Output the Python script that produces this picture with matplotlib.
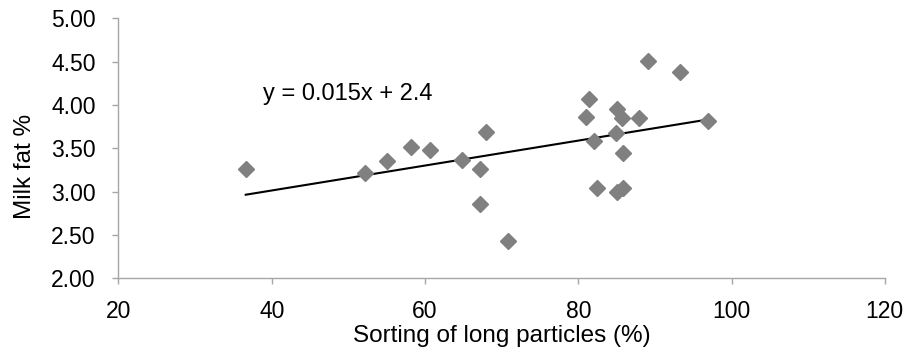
import numpy as np
import matplotlib
matplotlib.use("Agg")
import matplotlib.pyplot as plt

plt.rcParams["font.family"] = ["Liberation Sans", "DejaVu Sans"]

# sorting of long particles (%) and milk fat (%)
sorting = [36.6, 52.2, 55.1, 58.2, 60.6, 64.8, 67.15, 67.2, 68.0, 70.8,
           81.4, 81.0, 82.1, 82.45, 84.9, 85.0, 85.7, 85.0, 85.9, 85.9,
           87.9, 89.15, 93.3, 96.9]
milk_fat = [3.26, 3.21, 3.35, 3.515, 3.477, 3.365, 3.26, 2.86, 3.685, 2.434,
            4.072, 3.865, 3.58, 3.046, 3.677, 3.957, 3.85, 2.99, 3.446, 3.04,
            3.853, 4.51, 4.384, 3.82]

x = np.array(sorting)
y = np.array(milk_fat)
slope, intercept = np.polyfit(x, y, 1)
xl = np.array([x.min(), x.max()])

fig = plt.figure(figsize=(9.15, 3.56), dpi=100)
ax = fig.add_axes([0.1295, 0.2183, 0.8375, 0.7303])

ax.plot(x, y, linestyle="none", marker="D", markersize=8, color="#808080",
        markeredgecolor="#808080", zorder=3)
ax.plot(xl, slope * xl + intercept, color="black", linewidth=1.5, zorder=2)

ax.text(38.85, 4.132, "y = 0.015x + 2.4", fontsize=17, va="center", ha="left")

ax.set_xlim(20, 120)
ax.set_ylim(2.0, 5.0)
ax.set_xticks([20, 40, 60, 80, 100, 120])
ax.set_yticks([2.0, 2.5, 3.0, 3.5, 4.0, 4.5, 5.0])
ax.set_yticklabels([f"{v:.2f}" for v in ax.get_yticks()])

for s in ["top", "right"]:
    ax.spines[s].set_visible(False)
for s in ["left", "bottom"]:
    ax.spines[s].set_color("#a6a6a6")
    ax.spines[s].set_linewidth(1.0)

ax.tick_params(axis="both", colors="#a6a6a6", labelcolor="black",
               labelsize=16.5, length=4.3, width=1.0, direction="out")
ax.tick_params(axis="y", pad=12)
ax.tick_params(axis="x", pad=11)

ax.set_xlabel("Sorting of long particles (%)", fontsize=17.5)
ax.set_ylabel("Milk fat %", fontsize=17.5)
ax.xaxis.set_label_coords(0.5, -0.222)
ax.xaxis.label.set_va("center")
ax.yaxis.set_label_coords(-0.122, 0.43)
ax.yaxis.label.set_va("center")

fig.savefig("out.png", dpi=100)
